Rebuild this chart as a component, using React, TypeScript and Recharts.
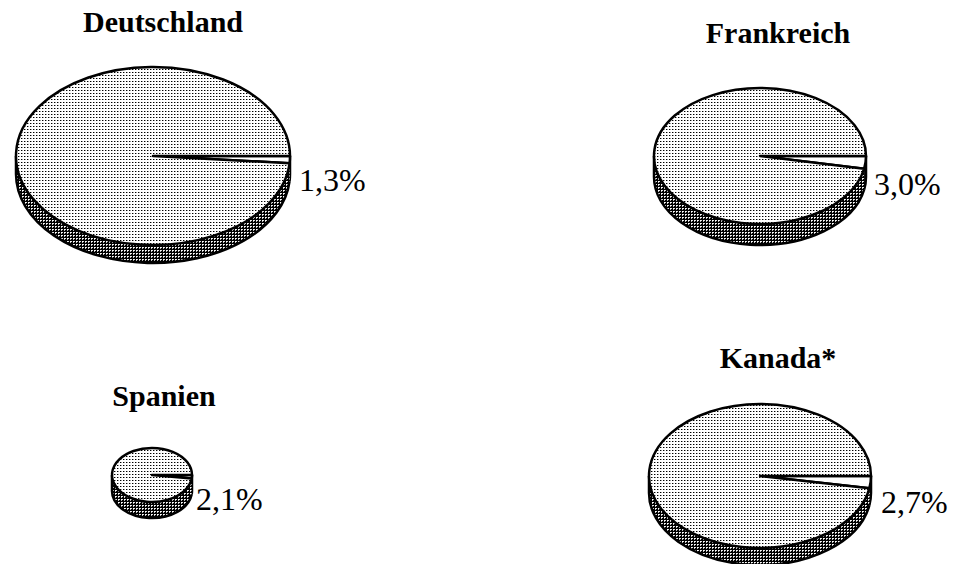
import React from "react";
import { PieChart, Pie, Cell } from "recharts";

const countries = ["Deutschland", "Frankreich", "Spanien", "Kanada*"];
const shares = [1.3, 3.0, 2.1, 2.7];
const shareLabels = ["1,3%", "3,0%", "2,1%", "2,7%"];
const sliceNames = ["Anteil", "Rest"];

// where each pie sits on the page (px)
const layout = [
  { cx: 148, cy: 151, rx: 137, ry: 89, depth: 18, titleX: 163, titleY: 32, labelDx: 9, labelDy: 35 },
  { cx: 755, cy: 151, rx: 106, ry: 68, depth: 21, titleX: 778, titleY: 43, labelDx: 8, labelDy: 39 },
  { cx: 147, cy: 470, rx: 40, ry: 27, depth: 16, titleX: 164, titleY: 406, labelDx: 4, labelDy: 35 },
  { cx: 755, cy: 471, rx: 111, ry: 72, depth: 17, titleX: 778, titleY: 368, labelDx: 10, labelDy: 37 },
];

const serif = '"Liberation Serif", "Times New Roman", serif';

const pt = (cx: number, cy: number, rx: number, ry: number, a: number) => {
  const r = (a * Math.PI) / 180;
  return [cx + rx * Math.cos(r), cy - ry * Math.sin(r)];
};

// top face of a tilted pie: an elliptical sector
function TopSector(props: any) {
  const { cx, cy, outerRadius, startAngle, endAngle, fill, tilt } = props;
  const rx = outerRadius;
  const ry = outerRadius * tilt;
  const [x1, y1] = pt(cx, cy, rx, ry, startAngle);
  const [x2, y2] = pt(cx, cy, rx, ry, endAngle);
  const large = Math.abs(endAngle - startAngle) > 180 ? 1 : 0;
  const sweep = startAngle > endAngle ? 1 : 0;
  const d = `M${cx},${cy} L${x1},${y1} A${rx},${ry} 0 ${large} ${sweep} ${x2},${y2} Z`;
  return <path d={d} fill={fill} stroke="#000" strokeWidth={2.5} strokeLinejoin="round" />;
}

// visible front wall of the slice (only the lower half of the ellipse)
function SideSector(props: any) {
  const { cx, cy, outerRadius, startAngle, endAngle, tilt, depth } = props;
  const rx = outerRadius;
  const ry = outerRadius * tilt;
  const hi = Math.min(Math.max(startAngle, endAngle), 0);
  const lo = Math.max(Math.min(startAngle, endAngle), -180);
  if (hi <= lo) return <g />;
  const [x1, y1] = pt(cx, cy, rx, ry, hi);
  const [x2, y2] = pt(cx, cy, rx, ry, lo);
  const body = `M${x1},${y1} A${rx},${ry} 0 0 1 ${x2},${y2} L${x2},${y2 + depth} A${rx},${ry} 0 0 0 ${x1},${y1 + depth} Z`;
  let edge = `M${x1},${y1 + depth} A${rx},${ry} 0 0 1 ${x2},${y2 + depth}`;
  if (hi === 0) edge += ` M${x1},${y1} L${x1},${y1 + depth}`;
  if (lo === -180) edge += ` M${x2},${y2} L${x2},${y2 + depth}`;
  return (
    <g>
      <path d={body} fill="url(#sideDots)" stroke="none" />
      <path d={edge} fill="none" stroke="#000" strokeWidth={2.5} />
    </g>
  );
}

export default function App() {
  const pieData = shares.map((s) =>
    sliceNames.map((name, j) => ({ name, value: j === 0 ? s : 100 - s }))
  );

  return (
    <div style={{ position: "absolute", left: 0, top: 0, width: 953, height: 564, background: "#fff" }}>
      <svg width={0} height={0} style={{ position: "absolute" }}>
        <defs>
          <pattern id="topDots" width={3} height={3} patternUnits="userSpaceOnUse">
            <rect width={3} height={3} fill="#fff" />
            <rect x={0} y={0} width={1} height={1} fill="#000" />
            <rect x={1} y={0} width={1} height={1} fill="#999" />
          </pattern>
          <pattern id="sideDots" width={3} height={3} patternUnits="userSpaceOnUse">
            <rect width={3} height={3} fill="#000" />
            <rect x={1} y={1} width={1} height={1} fill="#fff" />
            <rect x={2} y={1} width={1} height={1} fill="#ddd" />
            <rect x={1} y={2} width={1} height={1} fill="#bbb" />
          </pattern>
        </defs>
      </svg>

      <PieChart width={953} height={564} style={{ position: "absolute", left: 0, top: 0 }}>
        {layout.map((l, i) => (
          <Pie
            key={`side-${i}`}
            data={pieData[i]}
            dataKey="value"
            nameKey="name"
            cx={l.cx}
            cy={l.cy}
            outerRadius={l.rx}
            startAngle={0}
            endAngle={-360}
            isAnimationActive={false}
            shape={(p: any) => <SideSector {...p} tilt={l.ry / l.rx} depth={l.depth} />}
          />
        ))}
        {layout.map((l, i) => (
          <Pie
            key={`top-${i}`}
            data={pieData[i]}
            dataKey="value"
            nameKey="name"
            cx={l.cx}
            cy={l.cy}
            outerRadius={l.rx}
            startAngle={0}
            endAngle={-360}
            isAnimationActive={false}
            labelLine={false}
            label={(p: any) =>
              p.index === 0 ? (
                <text
                  x={(p.cx ?? l.cx) + (p.outerRadius ?? l.rx) + l.labelDx}
                  y={(p.cy ?? l.cy) + l.labelDy}
                  textAnchor="start"
                  fontFamily={serif}
                  fontSize={32}
                  fill="#000"
                >
                  {shareLabels[i]}
                </text>
              ) : null
            }
            shape={(p: any) => <TopSector {...p} tilt={l.ry / l.rx} />}
          >
            <Cell fill="#fff" />
            <Cell fill="url(#topDots)" />
          </Pie>
        ))}
      </PieChart>

      <svg width={953} height={564} style={{ position: "absolute", left: 0, top: 0, pointerEvents: "none" }}>
        {countries.map((c, i) => (
          <text
            key={c}
            x={layout[i].titleX}
            y={layout[i].titleY}
            textAnchor="middle"
            fontFamily={serif}
            fontWeight="bold"
            fontSize={30}
            fill="#000"
          >
            {c}
          </text>
        ))}
      </svg>
    </div>
  );
}
